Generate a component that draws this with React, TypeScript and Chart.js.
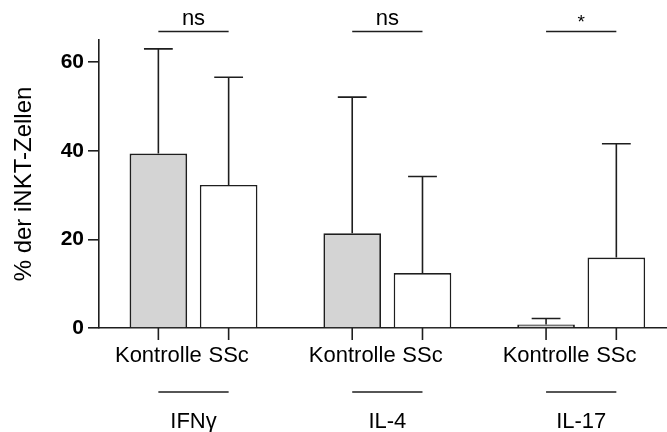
import React, { useEffect, useRef } from "react";
import { Chart, registerables } from "chart.js";

Chart.register(...registerables);

const groups = ["IFNγ", "IL-4", "IL-17"];
const seriesNames = ["Kontrolle", "SSc"];
const kontrolleMeans = [39.4, 21.4, 0.8];
const sscMeans = [32.3, 12.4, 15.9];
const kontrolleSD = [23.6, 30.7, 1.35];
const sscSD = [24.3, 21.8, 25.7];
const significance = ["ns", "ns", "*"];
const yTicks = [0, 20, 40, 60];

const FONT = "'Liberation Sans', Arial, Helvetica, sans-serif";
const INK = "#1e1e1e";

const annotationPlugin = {
  id: "annotations",
  afterDatasetsDraw(chart: any) {
    const ctx = chart.ctx;
    const y = chart.scales.y;
    const sds = [kontrolleSD, sscSD];
    const means = [kontrolleMeans, sscMeans];
    ctx.save();
    ctx.strokeStyle = INK;
    ctx.lineWidth = 1.6;
    for (let d = 0; d < 2; d++) {
      const meta = chart.getDatasetMeta(d);
      meta.data.forEach((bar: any, i: number) => {
        const top = y.getPixelForValue(means[d][i] + sds[d][i]);
        const base = y.getPixelForValue(means[d][i]);
        const half = bar.width / 4;
        ctx.beginPath();
        ctx.moveTo(bar.x, base);
        ctx.lineTo(bar.x, top);
        ctx.moveTo(bar.x - half, top);
        ctx.lineTo(bar.x + half, top);
        ctx.stroke();
      });
    }
    ctx.restore();
  },
  afterDraw(chart: any) {
    const ctx = chart.ctx;
    const area = chart.chartArea;
    const m0 = chart.getDatasetMeta(0).data;
    const m1 = chart.getDatasetMeta(1).data;
    ctx.save();
    ctx.strokeStyle = INK;
    ctx.fillStyle = "#000";
    ctx.lineWidth = 1.6;
    ctx.textAlign = "center";
    ctx.textBaseline = "middle";
    groups.forEach((g, i) => {
      const xs = [m0[i].x, m1[i].x];
      ctx.font = `22px ${FONT}`;
      xs.forEach((x, d) => {
        ctx.beginPath();
        ctx.moveTo(x, area.bottom);
        ctx.lineTo(x, area.bottom + 12);
        ctx.stroke();
        ctx.fillText(seriesNames[d], x, area.bottom + 28);
      });
      ctx.beginPath();
      ctx.moveTo(xs[0], area.bottom + 64);
      ctx.lineTo(xs[1], area.bottom + 64);
      ctx.stroke();
      ctx.fillText(g, (xs[0] + xs[1]) / 2, area.bottom + 94);
      ctx.beginPath();
      ctx.moveTo(xs[0], area.top - 8.5);
      ctx.lineTo(xs[1], area.top - 8.5);
      ctx.stroke();
      const s = significance[i];
      ctx.font = s === "*" ? `19px ${FONT}` : `22px ${FONT}`;
      ctx.fillText(s, (xs[0] + xs[1]) / 2, s === "*" ? area.top - 17 : area.top - 21);
    });
    ctx.restore();
  },
};

export default function App() {
  const ref = useRef<HTMLCanvasElement>(null);
  useEffect(() => {
    if (!ref.current) return;
    const chart = new Chart(ref.current, {
      type: "bar",
      data: {
        datasets: [
          {
            label: seriesNames[0],
            data: groups.map((_, i) => ({ x: i, y: kontrolleMeans[i] })),
            backgroundColor: "#d4d4d4",
            borderColor: INK,
            borderWidth: 1.8,
          },
          {
            label: seriesNames[1],
            data: groups.map((_, i) => ({ x: i, y: sscMeans[i] })),
            backgroundColor: "#ffffff",
            borderColor: INK,
            borderWidth: 1.6,
          },
        ],
      },
      options: {
        animation: false,
        responsive: true,
        maintainAspectRatio: false,
        categoryPercentage: 0.725,
        barPercentage: 0.82,
        layout: { padding: { top: 40, right: 0, left: 0, bottom: 0 } },
        plugins: { legend: { display: false }, tooltip: { enabled: false } },
        scales: {
          x: {
            type: "linear",
            offset: false,
            min: -0.4875,
            max: 2.4426,
            afterBuildTicks: (s: any) => {
              s.ticks = groups.map((_, i) => ({ value: i }));
            },
            ticks: { display: false },
            grid: { display: false, offset: false },
            border: { display: true, color: INK, width: 1.6 },
            afterFit: (s: any) => {
              s.height = 104;
            },
          },
          y: {
            min: 0,
            max: 65,
            afterBuildTicks: (s: any) => {
              s.ticks = yTicks.map((v) => ({ value: v }));
            },
            ticks: {
              color: "#000",
              padding: 4,
              font: { family: FONT, size: 21, weight: "bold" },
            },
            grid: {
              display: true,
              drawOnChartArea: false,
              drawTicks: true,
              tickLength: 11,
              color: INK,
              lineWidth: 1.6,
            },
            border: { display: true, color: INK, width: 1.6 },
            title: {
              display: true,
              text: "% der iNKT-Zellen",
              color: "#000",
              font: { family: FONT, size: 24, weight: "normal" },
              padding: { top: 10, bottom: 0 },
            },
            afterFit: (s: any) => {
              s.width = 99;
            },
          },
        },
      },
      plugins: [annotationPlugin],
    });
    return () => chart.destroy();
  }, []);
  return (
    <div style={{ position: "fixed", left: 0, top: 0, width: 667, height: 432, background: "#fff" }}>
      <canvas ref={ref} />
    </div>
  );
}
